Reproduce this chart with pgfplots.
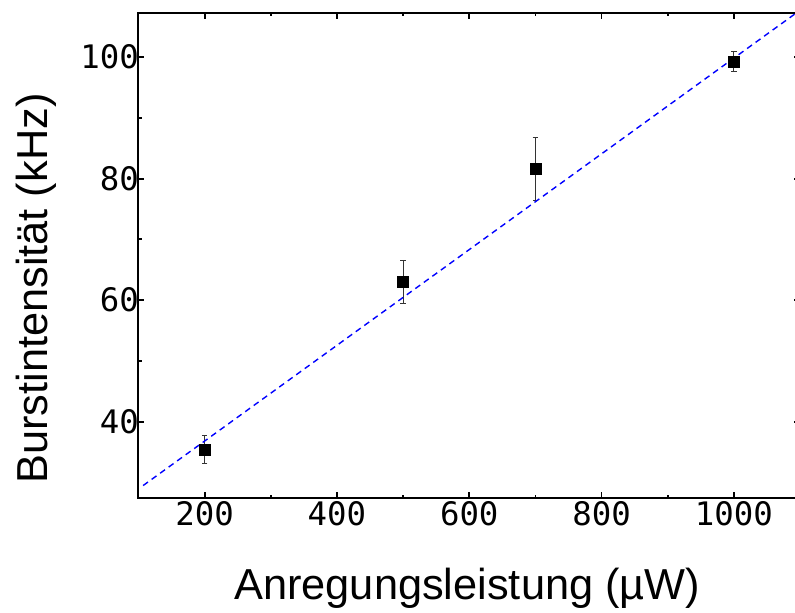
\documentclass[border=0pt]{standalone}
\usepackage{fontspec}
\setmainfont{Liberation Sans}
\newfontfamily\monofont{DejaVu Sans Mono}
\usepackage{pgfplots}
\pgfplotsset{compat=1.18}

\begin{document}
\begin{tikzpicture}
\begin{axis}[
  scale only axis,
  width=661.5bp, height=485.6bp,
  xmin=100, xmax=1100,
  ymin=27.4, ymax=107.3,
  xtick={200,400,600,800,1000},
  ytick={40,60,80,100},
  minor x tick num=1,
  minor y tick num=1,
  tick align=inside,
  major tick length=6bp,
  minor tick length=3.5bp,
  axis line style={line width=2bp},
  every tick/.style={line width=1.8bp, black},
  ticklabel style={font=\fontsize{32.5}{32.5}\selectfont\monofont},
  /pgf/number format/assume math mode=true,
  /pgf/number format/1000 sep={},
  yticklabel style={xshift=4bp},
  xlabel={Anregungsleistung (µW)},
  ylabel={Burstintensität (kHz)},
  label style={font=\fontsize{43.5}{43.5}\selectfont},
  xlabel style={at={(axis description cs:0.497,-0.2094)}, anchor=base},
  ylabel style={at={(axis description cs:-0.1383,0.432)}, anchor=base},
  clip=true,
]
% measured burst intensities with standard deviations
\addplot[
  only marks, mark=square*, mark size=5.5bp, black,
  error bars/.cd, y dir=both, y explicit,
  error bar style={line width=0.9bp, black!80},
  error mark options={rotate=90, mark size=2.8bp, line width=0.9bp, black!80},
] coordinates {
  (200, 35.4) +- (0, 2.3)
  (500, 63.0) +- (0, 3.6)
  (700, 81.6) +- (0, 5.15)
  (1000, 99.3) +- (0, 1.7)
};
% linear fit
\addplot[blue, dashed, line width=1.4bp, dash pattern=on 6bp off 4.5bp]
  coordinates {(107, 29.5) (1100, 107.7)};
\end{axis}
\pgfresetboundingbox
\useasboundingbox ([shift={(-138.5bp,12.7bp)}]current axis.north west)
  rectangle ([shift={(656.5bp,-113.7bp)}]current axis.south west);
\end{tikzpicture}
\end{document}
